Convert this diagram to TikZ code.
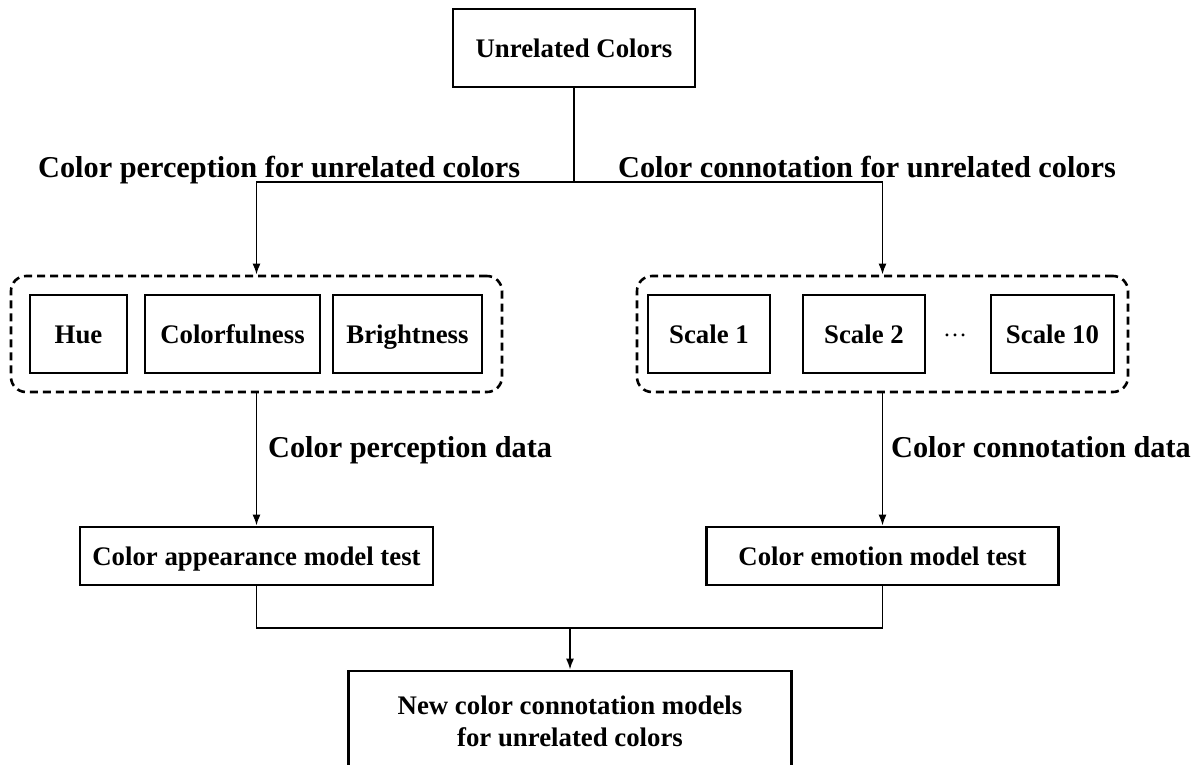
\documentclass[tikz,border=0pt]{standalone}
\usepackage{fontspec}
\setmainfont{Liberation Serif}
\usetikzlibrary{arrows.meta}
\begin{document}
\begin{tikzpicture}[x=1pt,y=-1pt,
	box/.style={draw,line width=2.6pt,inner sep=0,minimum height=78pt,text height=18pt,text depth=0pt,font=\fontsize{26.8}{32}\selectfont\bfseries},
	group/.style={draw,line width=2.6pt,dash pattern=on 8pt off 5pt,rounded corners=15pt,minimum width=491pt,minimum height=116pt,inner sep=0},
	lbl/.style={inner sep=0,font=\fontsize{30.3}{34}\selectfont\bfseries},
	link/.style={line width=1.8pt},
	arr/.style={link,-{Latex[length=11pt,width=8pt]}}]
	\useasboundingbox (0,0) rectangle (1200,764);
	% Top box
	\node[box,minimum width=242pt] (unrel) at (574,48) {Unrelated Colors};
	% Fork and its labels
	\coordinate (fork) at (574,182);
	\node[lbl,anchor=base west] (percLbl) at (38,177) {Color perception for unrelated colors};
	\node[lbl,anchor=base west] (connLbl) at (618,177) {Color connotation for unrelated colors};
	% Groups
	\node[group] (grpP) at (256.5,334) {};
	\node[group] (grpC) at (882.5,334) {};
	% Perception attributes
	\node[box,minimum width=97pt] (hue) at (78.5,334) {Hue};
	\node[box,minimum width=175pt] (colorful) at (232.5,334) {Colorfulness};
	\node[box,minimum width=149pt] (bright) at (407.5,334) {Brightness};
	% Connotation scales
	\node[box,minimum width=122pt] (scaleA) at (709,334) {Scale 1};
	\node[box,minimum width=122pt] (scaleB) at (864,334) {Scale 2};
	\node[inner sep=0,font=\fontsize{24}{28}\selectfont] (dots) at (955,335) {…};
	\node[box,minimum width=123pt] (scaleJ) at (1052.5,334) {Scale 10};
	% Model tests
	\node[box,minimum width=353pt,minimum height=58pt] (appear) at (256.5,556) {Color appearance model test};
	\node[box,minimum width=352pt,minimum height=58pt] (emot) at (882.5,556) {Color emotion model test};
	\node[lbl,anchor=base west] (percData) at (268,457) {Color perception data};
	\node[lbl,anchor=base west] (connData) at (891,457) {Color connotation data};
	% Result
	\node[box,minimum width=443pt,minimum height=100pt,align=center,text height=,text depth=] (final) at (570,721)
		{New color connotation models\\for unrelated colors};
	% Connectors
	\draw[link] (unrel.south) -- (fork);
	\draw[arr] (fork) -| (grpP.north);
	\draw[arr] (fork) -| (grpC.north);
	\draw[arr] (grpP.south) -- (appear.north);
	\draw[arr] (grpC.south) -- (emot.north);
	\coordinate (join) at (570,628);
	\draw[link] (appear.south) |- (join) -| (emot.south);
	\draw[arr] (join) -- (final.north);
\end{tikzpicture}
\end{document}
